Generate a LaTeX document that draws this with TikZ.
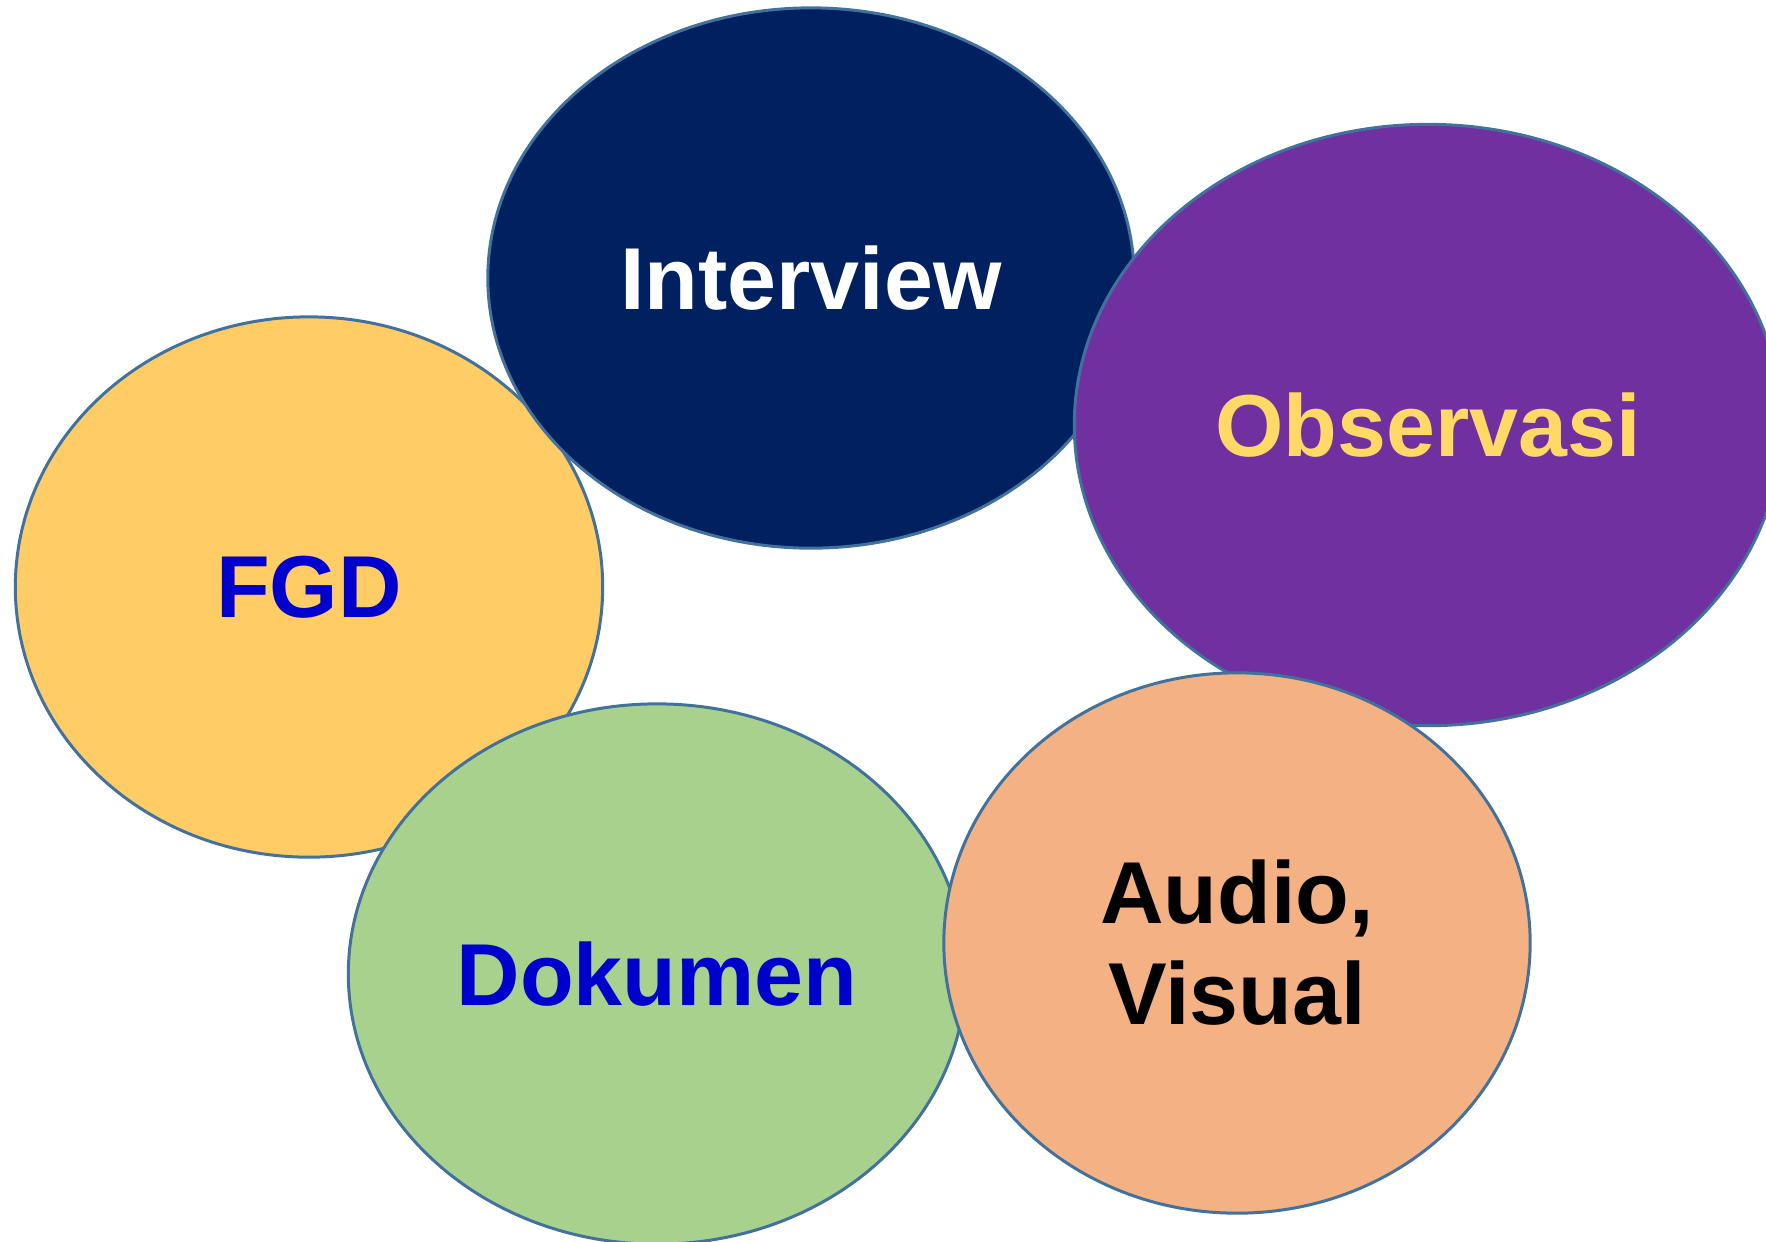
\documentclass[tikz,border=0pt]{standalone}
\usepackage{fontspec}
\setmainfont{Liberation Sans}
\usetikzlibrary{shapes.geometric}
\definecolor{edgeblue}{HTML}{41719C}
\definecolor{navy}{HTML}{002060}
\definecolor{purp}{HTML}{7030A0}
\definecolor{gold}{HTML}{FFCC66}
\definecolor{green}{HTML}{A9D18E}
\definecolor{peach}{HTML}{F4B183}
\definecolor{ltext}{HTML}{FFD966}
\definecolor{btext}{HTML}{0000CC}
\tikzset{
  bubble/.style={ellipse, draw=edgeblue, line width=0.85pt, inner sep=0pt,
    font=\fontsize{25}{28.7}\selectfont\bfseries, align=center}
}
\begin{document}
\begin{tikzpicture}[x=0.01cm,y=-0.01cm]
\useasboundingbox (0,0) rectangle (1766,1241);
\clip (0,0) rectangle (1766,1241);
\node[bubble, fill=gold, text=btext, minimum width=5.87cm, minimum height=5.40cm] (fgd) at (309,587) {FGD};
\node[bubble, fill=navy, text=white, minimum width=6.46cm, minimum height=5.40cm] (interview) at (811,278) {Interview};
\node[bubble, fill=purp, text=ltext, minimum width=7.07cm, minimum height=6.01cm] (observasi) at (1428,425) {Observasi};
\node[bubble, fill=green, text=btext, minimum width=6.17cm, minimum height=5.40cm] (dokumen) at (657,974) {Dokumen};
\node[bubble, fill=peach, text=black, minimum width=5.86cm, minimum height=5.40cm] (audio) at (1237,943) {Audio,\\Visual};
\end{tikzpicture}
\end{document}
